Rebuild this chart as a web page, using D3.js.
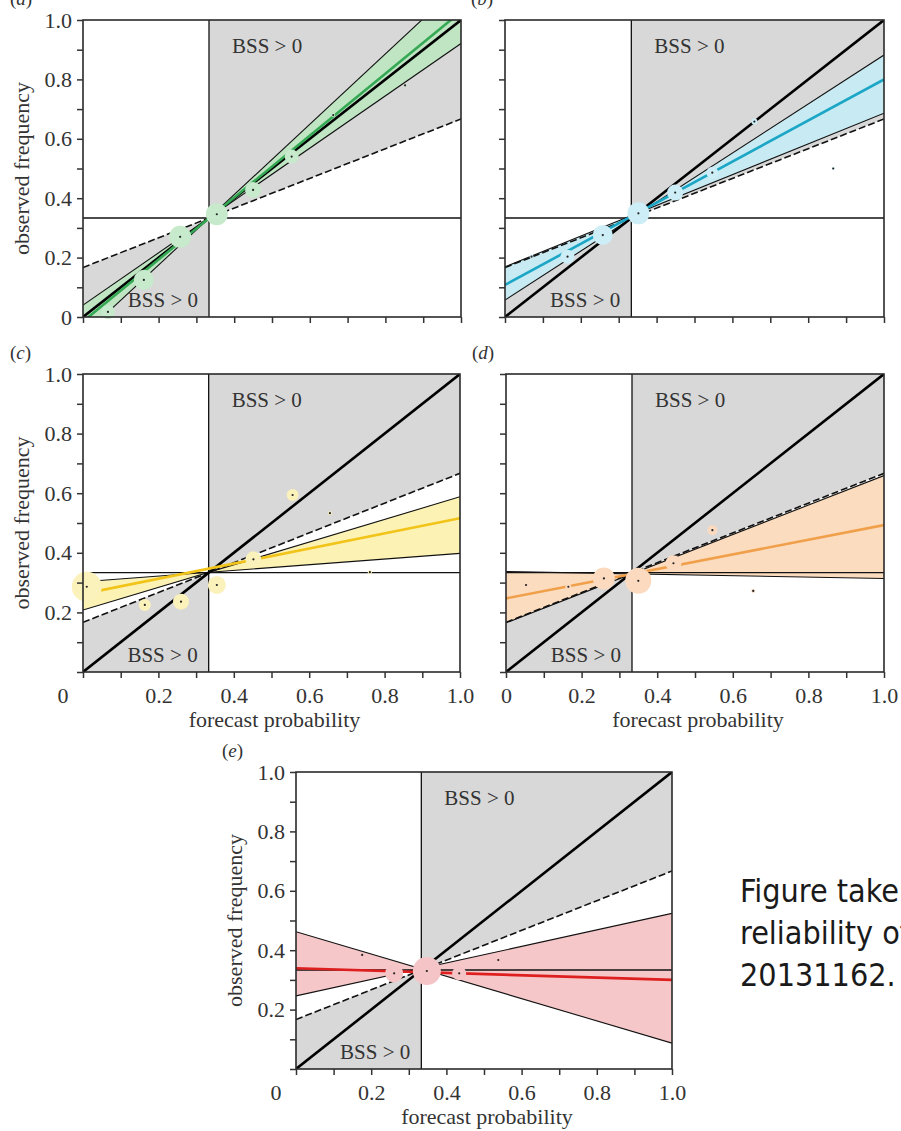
<!doctype html>
<html>
<head>
<meta charset="utf-8" />
<title>Reliability diagrams</title>
<script src="https://cdn.jsdelivr.net/npm/d3@7"></script>
<style>
  html, body { margin: 0; padding: 0; background: #fff; overflow: hidden; }
  svg { display: block; }
</style>
</head>
<body>
<script>
// climatological frequency of a tercile event
const clim = 1 / 3;

// tick positions and the labels shown on them
const ticks = [0, 0.1, 0.2, 0.3, 0.4, 0.5, 0.6, 0.7, 0.8, 0.9, 1.0];
const labelled = [0, 0.2, 0.4, 0.6, 0.8, 1.0];

// panel (a): forecast prob, observed freq, share of forecasts per bin
const probA  = [0.066, 0.161, 0.257, 0.354, 0.450, 0.552, 0.662, 0.852];
const freqA  = [0.017, 0.125, 0.270, 0.346, 0.428, 0.540, 0.680, 0.780];
const shareA = [0.096, 0.196, 0.237, 0.237, 0.125, 0.096, 0.008, 0.004];
const fitA   = [-0.015, 1.028];                 // regression, y at x=0 and x=1
const bandA  = [[-0.062, 1.123], [0.040, 0.921]]; // confidence lines

// panel (b)
const probB  = [0.070, 0.165, 0.258, 0.352, 0.449, 0.547, 0.658, 0.866];
const freqB  = [0.203, 0.203, 0.276, 0.349, 0.419, 0.486, 0.658, 0.500];
const shareB = [0.008, 0.096, 0.196, 0.237, 0.125, 0.070, 0.018, 0.004];
const fitB   = [0.108, 0.800];
const bandB  = [[0.057, 0.882], [0.169, 0.686]];

// panel (c)
const probC  = [0.010, 0.164, 0.260, 0.355, 0.452, 0.556, 0.655, 0.761];
const freqC  = [0.286, 0.225, 0.236, 0.292, 0.378, 0.594, 0.533, 0.335];
const shareC = [0.440, 0.070, 0.125, 0.159, 0.125, 0.070, 0.008, 0.008];
const fitC   = [0.262, 0.516];
const bandC  = [[0.208, 0.588], [0.303, 0.398]];

// panel (d)
const probD  = [0.053, 0.165, 0.259, 0.350, 0.443, 0.546, 0.654];
const freqD  = [0.292, 0.286, 0.314, 0.306, 0.365, 0.476, 0.272];
const shareD = [0.018, 0.018, 0.237, 0.331, 0.125, 0.049, 0.008];
const fitD   = [0.247, 0.493];
const bandD  = [[0.165, 0.659], [0.337, 0.314]];

// panel (e)
const probE  = [0.176, 0.261, 0.348, 0.434, 0.538];
const freqE  = [0.384, 0.322, 0.330, 0.322, 0.367];
const shareE = [0.008, 0.159, 0.384, 0.096, 0.008];
const fitE   = [0.339, 0.300];
const bandE  = [[0.462, 0.087], [0.246, 0.524]];

const noteLines = ["Figure taken from", "reliability of", "20131162."];

// layout and colours of each panel
const panels = [
  { id: "a", prob: probA, freq: freqA, share: shareA, fit: fitA, band: bandA,
    left: 83, right: 461, top: 20, bottom: 317,
    line: "#34a853", fill: "#bfe5c3", dot: "#c6eacb",
    yLab: "all", xLab: "none", yTitle: true, xTitle: false, letterDx: -73 },
  { id: "b", prob: probB, freq: freqB, share: shareB, fit: fitB, band: bandB,
    left: 505, right: 884, top: 20, bottom: 317,
    line: "#1ba6c6", fill: "#c8ebf3", dot: "#cdeef6",
    yLab: "none", xLab: "none", yTitle: false, xTitle: false, letterDx: -34 },
  { id: "c", prob: probC, freq: freqC, share: shareC, fit: fitC, band: bandC,
    left: 83, right: 460, top: 374, bottom: 672,
    line: "#f2c419", fill: "#fcf2b3", dot: "#fbf1bb",
    yLab: "noZero", xLab: "corner", yTitle: true, xTitle: true, letterDx: -73 },
  { id: "d", prob: probD, freq: freqD, share: shareD, fit: fitD, band: bandD,
    left: 506, right: 884, top: 374, bottom: 672,
    line: "#f0a04a", fill: "#fcdcbe", dot: "#fbdac0",
    yLab: "none", xLab: "all", yTitle: false, xTitle: true, letterDx: -34 },
  { id: "e", prob: probE, freq: freqE, share: shareE, fit: fitE, band: bandE,
    left: 296, right: 672, top: 772, bottom: 1069,
    line: "#de1f1f", fill: "#f6c7c8", dot: "#f5c4c6",
    yLab: "noZero", xLab: "corner", yTitle: true, xTitle: true, letterDx: -74 }
];

const serif = "'Liberation Serif', 'Times New Roman', serif";
const ink = "#333";
const rScale = d3.scaleSqrt().domain([0, 1]).range([0, 22.6]);
const fmt = v => v === 0 ? "0" : d3.format(".1f")(v);

const svg = d3.select("body").append("svg")
  .attr("width", 901)
  .attr("height", 1131);

panels.forEach(drawPanel);

// note on the right, cut by the page edge like the source
svg.append("g")
  .selectAll("text")
  .data(noteLines)
  .join("text")
  .attr("x", 740)
  .attr("y", (d, i) => 902 + i * 42)
  .style("font-family", "'DejaVu Sans Condensed', 'DejaVu Sans', sans-serif")
  .style("font-stretch", "condensed")
  .style("font-size", "32px")
  .attr("fill", "#1a1a1a")
  .text(d => d);

function drawPanel(p) {
  const x = d3.scaleLinear().domain([0, 1]).range([p.left, p.right]);
  const y = d3.scaleLinear().domain([0, 1]).range([p.bottom, p.top]);
  const g = svg.append("g");

  g.append("clipPath").attr("id", "clip-" + p.id)
    .append("rect")
    .attr("x", p.left).attr("y", p.top)
    .attr("width", p.right - p.left).attr("height", p.bottom - p.top);

  const plot = g.append("g").attr("clip-path", `url(#clip-${p.id})`);
  const path = d3.line().x(d => x(d[0])).y(d => y(d[1]));
  const noSkill = v => (v + clim) / 2;

  // BSS > 0 regions
  const upper = [[clim, noSkill(clim)], [1, noSkill(1)], [1, 1], [clim, 1]];
  const lower = [[0, 0], [clim, 0], [clim, clim], [0, noSkill(0)]];
  plot.selectAll("path.bss")
    .data([upper, lower])
    .join("path")
    .attr("class", "bss")
    .attr("d", d => path(d) + "Z")
    .attr("fill", "#d8d8d8");

  // confidence band between two crossing lines
  const f = p.band.map(b => v => b[0] + (b[1] - b[0]) * v);
  const s0 = p.band[0][1] - p.band[0][0], s1 = p.band[1][1] - p.band[1][0];
  const xc = (p.band[1][0] - p.band[0][0]) / (s0 - s1);
  const xs = xc > 0 && xc < 1 ? [0, xc, 1] : [0, 1];
  plot.append("path")
    .datum(xs)
    .attr("d", d3.area()
      .x(v => x(v))
      .y0(v => y(Math.min(f[0](v), f[1](v))))
      .y1(v => y(Math.max(f[0](v), f[1](v)))))
    .attr("fill", p.fill);

  plot.selectAll("path.edge")
    .data(p.band)
    .join("path")
    .attr("class", "edge")
    .attr("d", b => path([[0, b[0]], [1, b[1]]]))
    .attr("fill", "none")
    .attr("stroke", "#111")
    .attr("stroke-width", 1.1);

  // climatology lines
  plot.append("path")
    .attr("d", path([[0, clim], [1, clim]]))
    .attr("stroke", "#111").attr("stroke-width", 1.3);
  plot.append("path")
    .attr("d", path([[clim, 0], [clim, 1]]))
    .attr("stroke", "#111").attr("stroke-width", 1.3);

  // no-skill line
  plot.append("path")
    .attr("d", path([[0, noSkill(0)], [1, noSkill(1)]]))
    .attr("stroke", "#111").attr("stroke-width", 1.6)
    .attr("stroke-dasharray", "7,3");

  // perfect reliability
  plot.append("path")
    .attr("d", path([[0, 0], [1, 1]]))
    .attr("stroke", "#000").attr("stroke-width", 2.6);

  // regression line
  plot.append("path")
    .attr("d", path([[0, p.fit[0]], [1, p.fit[1]]]))
    .attr("stroke", p.line).attr("stroke-width", 2.6);

  // bins
  const pts = p.prob.map((v, i) => ({ x: v, y: p.freq[i], s: p.share[i] }));
  g.append("g")
    .selectAll("circle")
    .data(pts)
    .join("circle")
    .attr("cx", d => x(d.x))
    .attr("cy", d => y(d.y))
    .attr("r", d => rScale(d.s))
    .attr("fill", p.dot);
  g.append("g")
    .selectAll("circle")
    .data(pts)
    .join("circle")
    .attr("cx", d => x(d.x))
    .attr("cy", d => y(d.y))
    .attr("r", 1.1)
    .attr("fill", "#222");

  // frame
  g.append("rect")
    .attr("x", p.left).attr("y", p.top)
    .attr("width", p.right - p.left).attr("height", p.bottom - p.top)
    .attr("fill", "none")
    .attr("stroke", "#2a2a2a")
    .attr("stroke-width", 1.6);

  // axes
  const yShow = v => labelled.includes(v) &&
    (p.yLab === "all" || (p.yLab === "noZero" && v !== 0));
  const xShow = v => labelled.includes(v) &&
    (p.xLab === "all" || (p.xLab === "corner" && v !== 0));

  const ya = g.append("g")
    .attr("transform", `translate(${p.left},0)`)
    .call(d3.axisLeft(y).tickValues(ticks).tickSize(6).tickPadding(5)
      .tickFormat(v => yShow(v) ? fmt(v) : ""));
  const xa = g.append("g")
    .attr("transform", `translate(0,${p.bottom})`)
    .call(d3.axisBottom(x).tickValues(ticks).tickSize(6).tickPadding(9)
      .tickFormat(v => xShow(v) ? fmt(v) : ""));

  [ya, xa].forEach(a => {
    a.select(".domain").remove();
    a.selectAll(".tick line").attr("stroke", ink).attr("stroke-width", 1.5);
    a.selectAll(".tick text")
      .attr("fill", ink)
      .style("font-family", serif)
      .style("font-size", "22px");
  });

  if (p.xLab === "corner") {
    g.append("text")
      .attr("x", p.left - 20)
      .attr("y", p.bottom + 31)
      .attr("text-anchor", "middle")
      .attr("fill", ink)
      .style("font-family", serif)
      .style("font-size", "22px")
      .text("0");
  }

  // BSS > 0 labels
  g.append("text")
    .attr("x", x(clim) + 23)
    .attr("y", p.top + 33)
    .attr("fill", ink)
    .style("font-family", serif)
    .style("font-size", "21px")
    .text("BSS > 0");
  g.append("text")
    .attr("x", x(clim) - 11)
    .attr("y", p.bottom - 10)
    .attr("text-anchor", "end")
    .attr("fill", ink)
    .style("font-family", serif)
    .style("font-size", "21px")
    .text("BSS > 0");

  // axis titles
  if (p.yTitle) {
    g.append("text")
      .attr("transform", `translate(${p.left - 54},${(p.top + p.bottom) / 2}) rotate(-90)`)
      .attr("text-anchor", "middle")
      .attr("fill", ink)
      .style("font-family", serif)
      .style("font-size", "22px")
      .text("observed frequency");
  }
  if (p.xTitle) {
    g.append("text")
      .attr("x", (p.left + p.right) / 2 + 3)
      .attr("y", p.bottom + 55)
      .attr("text-anchor", "middle")
      .attr("fill", ink)
      .style("font-family", serif)
      .style("font-size", "22px")
      .text("forecast probability");
  }

  // panel letter
  const letter = g.append("text")
    .attr("x", p.left + p.letterDx)
    .attr("y", p.top - 15)
    .attr("fill", ink)
    .style("font-family", serif)
    .style("font-size", "19px");
  letter.append("tspan").text("(");
  letter.append("tspan").style("font-style", "italic").text(p.id);
  letter.append("tspan").text(")");
}
</script>
</body>
</html>
